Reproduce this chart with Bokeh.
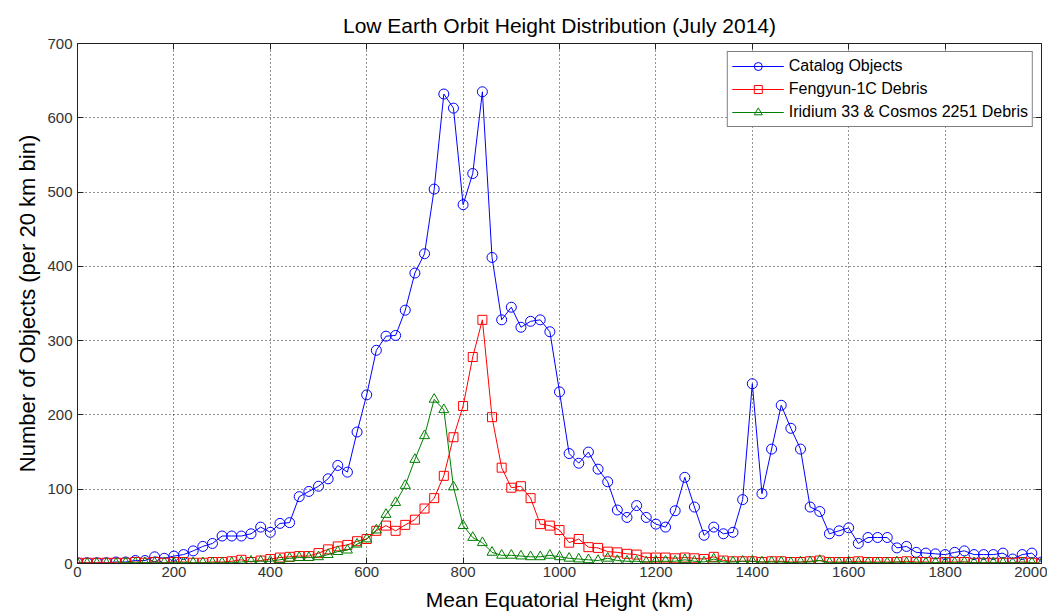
from bokeh.plotting import figure
from bokeh.models import (Range1d, LinearAxis, FixedTicker, CustomJSTickFormatter,
                          Legend, LegendItem)
from bokeh.embed import file_html
from bokeh.resources import INLINE

# ---------------- data ----------------
heights = list(range(0, 2001, 20))  # bin positions (km)

catalog = [1, 1, 1, 1, 2, 2, 4, 4, 9, 7,
           10, 12, 17, 23, 27, 37, 37, 37, 40, 49,
           42, 54, 55, 90, 97, 104, 114, 132, 123, 177,
           227, 287, 306, 307, 341, 391, 417, 504, 632, 613,
           483, 525, 635, 412, 328, 345, 318, 326, 328, 312,
           231, 148, 135, 150, 127, 110, 72, 62, 78, 62,
           53, 49, 71, 116, 76, 38, 49, 40, 42, 86,
           242, 94, 154, 213, 182, 154, 76, 70, 40, 44,
           48, 27, 35, 35, 35, 21, 23, 15, 14, 13,
           12, 15, 17, 12, 12, 12, 14, 6, 12, 14,
           2]

fengyun = [1, 1, 1, 1, 1, 1, 2, 1, 2, 1,
           2, 2, 1, 1, 2, 2, 3, 5, 2, 4,
           6, 8, 9, 10, 10, 14, 19, 23, 25, 30,
           33, 44, 51, 44, 52, 59, 74, 88, 118, 170,
           212, 278, 328, 197, 129, 102, 104, 88, 53, 51,
           45, 28, 33, 22, 21, 16, 15, 13, 12, 8,
           8, 8, 7, 8, 7, 6, 9, 4, 3, 3,
           3, 2, 3, 3, 2, 2, 3, 4, 2, 2,
           2, 3, 2, 2, 2, 2, 3, 2, 2, 1,
           2, 2, 2, 1, 1, 1, 1, 1, 2, 1,
           0]

iridium = [0, 0, 0, 0, 0, 1, 1, 1, 1, 1,
           1, 1, 1, 1, 1, 1, 1, 2, 3, 3,
           3, 5, 7, 8, 8, 9, 12, 16, 18, 26,
           33, 45, 66, 82, 105, 140, 172, 221, 207, 103,
           51, 35, 28, 15, 11, 11, 10, 9, 9, 11,
           9, 7, 6, 5, 4, 7, 4, 3, 3, 2,
           3, 3, 3, 5, 3, 2, 6, 2, 2, 3,
           3, 2, 2, 2, 1, 2, 2, 4, 1, 1,
           2, 1, 1, 1, 1, 2, 1, 1, 1, 1,
           1, 1, 2, 1, 1, 1, 1, 1, 1, 1,
           0]

series_names = ["Catalog Objects", "Fengyun-1C Debris", "Iridium 33 & Cosmos 2251 Debris"]
x_ticks = [0, 200, 400, 600, 800, 1000, 1200, 1400, 1600, 1800, 2000]
y_ticks = [0, 100, 200, 300, 400, 500, 600, 700]

FONT = "Liberation Sans"

p = figure(frame_width=964, frame_height=520,
           x_range=Range1d(0, 2000), y_range=Range1d(0, 700),
           output_backend="svg", toolbar_location=None,
           min_border_left=77, min_border_right=6,
           min_border_top=43, min_border_bottom=48,
           background_fill_color="white", border_fill_color="white")

# title
p.title.text = "Low Earth Orbit Height Distribution (July 2014)"
p.title.align = "center"
p.title.text_font = FONT
p.title.text_font_size = "21px"
p.title.text_font_style = "normal"
p.title.text_color = "black"
p.title.standoff = 14

# main axes
for ax in (p.xaxis[0], p.yaxis[0]):
    ax.major_tick_in = 6
    ax.major_tick_out = 0
    ax.minor_tick_in = 0
    ax.minor_tick_out = 0
    ax.major_label_text_font = FONT
    ax.major_label_text_font_size = "15px"
    ax.major_label_text_color = "#333333"
    ax.axis_label_text_font = FONT
    ax.axis_label_text_font_style = "normal"
    ax.axis_label_text_color = "black"
    ax.axis_line_color = "#222222"
    ax.major_tick_line_color = "#222222"

p.xaxis.ticker = FixedTicker(ticks=x_ticks)
p.yaxis.ticker = FixedTicker(ticks=y_ticks)
p.xaxis.axis_label = "Mean Equatorial Height (km)"
p.yaxis.axis_label = "Number of Objects (per 20 km bin)"
p.xaxis.axis_label_text_font_size = "21px"
p.yaxis.axis_label_text_font_size = "22px"
p.xaxis.major_label_standoff = 3
p.xaxis.axis_label_standoff = 8
p.yaxis.major_label_standoff = 5
p.yaxis.axis_label_standoff = 4

# box axes (top / right) with inward ticks and no labels
blank = CustomJSTickFormatter(code="return ''")
top_ax = LinearAxis(ticker=FixedTicker(ticks=x_ticks), formatter=blank,
                    major_tick_in=6, major_tick_out=0, minor_tick_in=0, minor_tick_out=0,
                    major_label_standoff=0, major_label_text_font_size="1px",
                    axis_line_color="#222222", major_tick_line_color="#222222")
right_ax = LinearAxis(ticker=FixedTicker(ticks=y_ticks), formatter=blank,
                      major_tick_in=6, major_tick_out=0, minor_tick_in=0, minor_tick_out=0,
                      major_label_standoff=0, major_label_text_font_size="1px",
                      axis_line_color="#222222", major_tick_line_color="#222222")
p.add_layout(top_ax, "above")
p.add_layout(right_ax, "right")

p.outline_line_color = "#222222"

# grid
p.grid.grid_line_color = "black"
p.grid.grid_line_dash = "1 3"
p.grid.grid_line_alpha = 0.85
p.grid.grid_line_width = 1

# series
colors = ["#0000ff", "#ff0000", "#008000"]
markers = ["circle", "square", "triangle"]
sizes = [10, 9, 10]
datas = [catalog, fengyun, iridium]
items = []
for name, data, c, m, s in zip(series_names, datas, colors, markers, sizes):
    ln = p.line(heights, data, line_color=c, line_width=1)
    sc = p.scatter(heights, data, marker=m, size=s, line_color=c,
                   fill_color=None, line_width=1)
    items.append(LegendItem(label=name, renderers=[ln, sc]))

legend = Legend(items=items, location="top_right")
legend.margin = 8
legend.padding = 4
legend.spacing = 3
legend.label_height = 20
legend.glyph_height = 20
legend.glyph_width = 52
legend.label_standoff = 5
legend.label_text_font = FONT
legend.label_text_font_size = "16px"
legend.label_text_color = "black"
legend.border_line_color = "black"
legend.border_line_width = 1
legend.background_fill_color = "white"
legend.background_fill_alpha = 1.0
p.add_layout(legend, "center")

open("out.html", "w").write(file_html(p, INLINE))
